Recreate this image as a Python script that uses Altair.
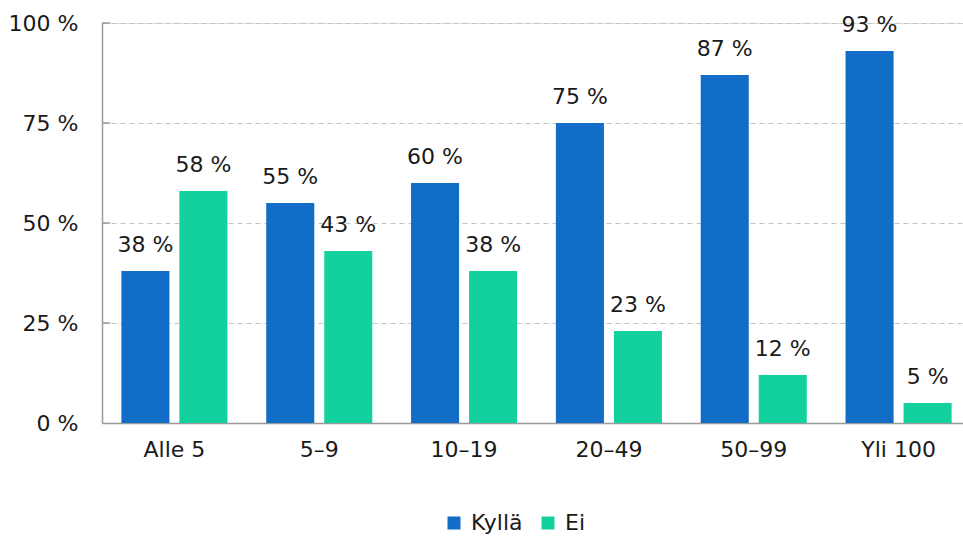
import altair as alt
import pandas as pd

# Share of answers per company size class
categories = ["Alle 5", "5–9", "10–19", "20–49", "50–99", "Yli 100"]
series = ["Kyllä", "Ei"]
kylla = [38, 55, 60, 75, 87, 93]
ei = [58, 43, 38, 23, 12, 5]
y_ticks = [0, 25, 50, 75, 100]
colors = ["#126DC6", "#12D19E"]

rows = []
for i, cat in enumerate(categories):
    rows.append({"koko": cat, "vastaus": "Kyllä", "osuus": kylla[i]})
    rows.append({"koko": cat, "vastaus": "Ei", "osuus": ei[i]})
df = pd.DataFrame(rows)
df["label"] = df["osuus"].astype(str) + " %"

FONT = "DejaVu Sans"
FS = 22

x_enc = alt.X(
    "koko:N",
    sort=categories,
    title=None,
    scale=alt.Scale(range=[0, 869], paddingInner=0, paddingOuter=0),
    axis=alt.Axis(
        labelFontSize=FS, labelFont=FONT, labelColor="#1a1a1a", labelAngle=0,
        labelPadding=16, ticks=False, domainColor="#9a9a9a", domainWidth=1.5,
        grid=False,
    ),
)
xoff_enc = alt.XOffset(
    "vastaus:N", sort=series,
    scale=alt.Scale(paddingInner=0.172, paddingOuter=0.334),
)
y_enc = alt.Y(
    "osuus:Q",
    title=None,
    scale=alt.Scale(domain=[0, 100], nice=False),
    axis=alt.Axis(
        values=y_ticks, labelExpr="datum.value + ' %'", labelFontSize=FS,
        labelFont=FONT, labelColor="#1a1a1a", labelPadding=24, ticks=False,
        domainColor="#9a9a9a", domainWidth=1.5, gridColor="#c4c4c4",
        gridDash=[5, 4], gridWidth=1,
    ),
)
color_enc = alt.Color(
    "vastaus:N", sort=series, title=None,
    scale=alt.Scale(domain=series, range=colors),
    legend=alt.Legend(
        orient="none", legendX=341, legendY=489, direction="horizontal",
        symbolType="square", symbolSize=169, symbolStrokeWidth=0,
        labelFontSize=FS, labelFont=FONT, labelColor="#1a1a1a",
        labelOffset=6, columnPadding=14,
    ),
)

bars = alt.Chart(df).mark_bar().encode(
    x=x_enc, xOffset=xoff_enc, y=y_enc, color=color_enc
)

labels = alt.Chart(df).mark_text(
    baseline="alphabetic", dy=-19, fontSize=FS, font=FONT, color="#1a1a1a"
).encode(x=x_enc, xOffset=xoff_enc, y="osuus:Q", text="label:N")

tick_df = pd.DataFrame({"t": y_ticks[1:]})
ticks = alt.Chart(tick_df).mark_rule(color="#9a9a9a", strokeWidth=1.5).encode(
    y=alt.Y("t:Q", scale=alt.Scale(domain=[0, 100], nice=False)),
    x=alt.value(0), x2=alt.value(8),
)

chart = (
    alt.layer(bars, labels, ticks)
    .properties(
        width=861, height=400,
        autosize=alt.AutoSizeParams(type="none"),
        padding={"left": 102, "top": 23, "right": 0, "bottom": 113},
    )
    .configure_view(stroke=None)
    .configure(background="white")
)

chart.save("out.html", embed_options={"renderer": "svg", "actions": False})
